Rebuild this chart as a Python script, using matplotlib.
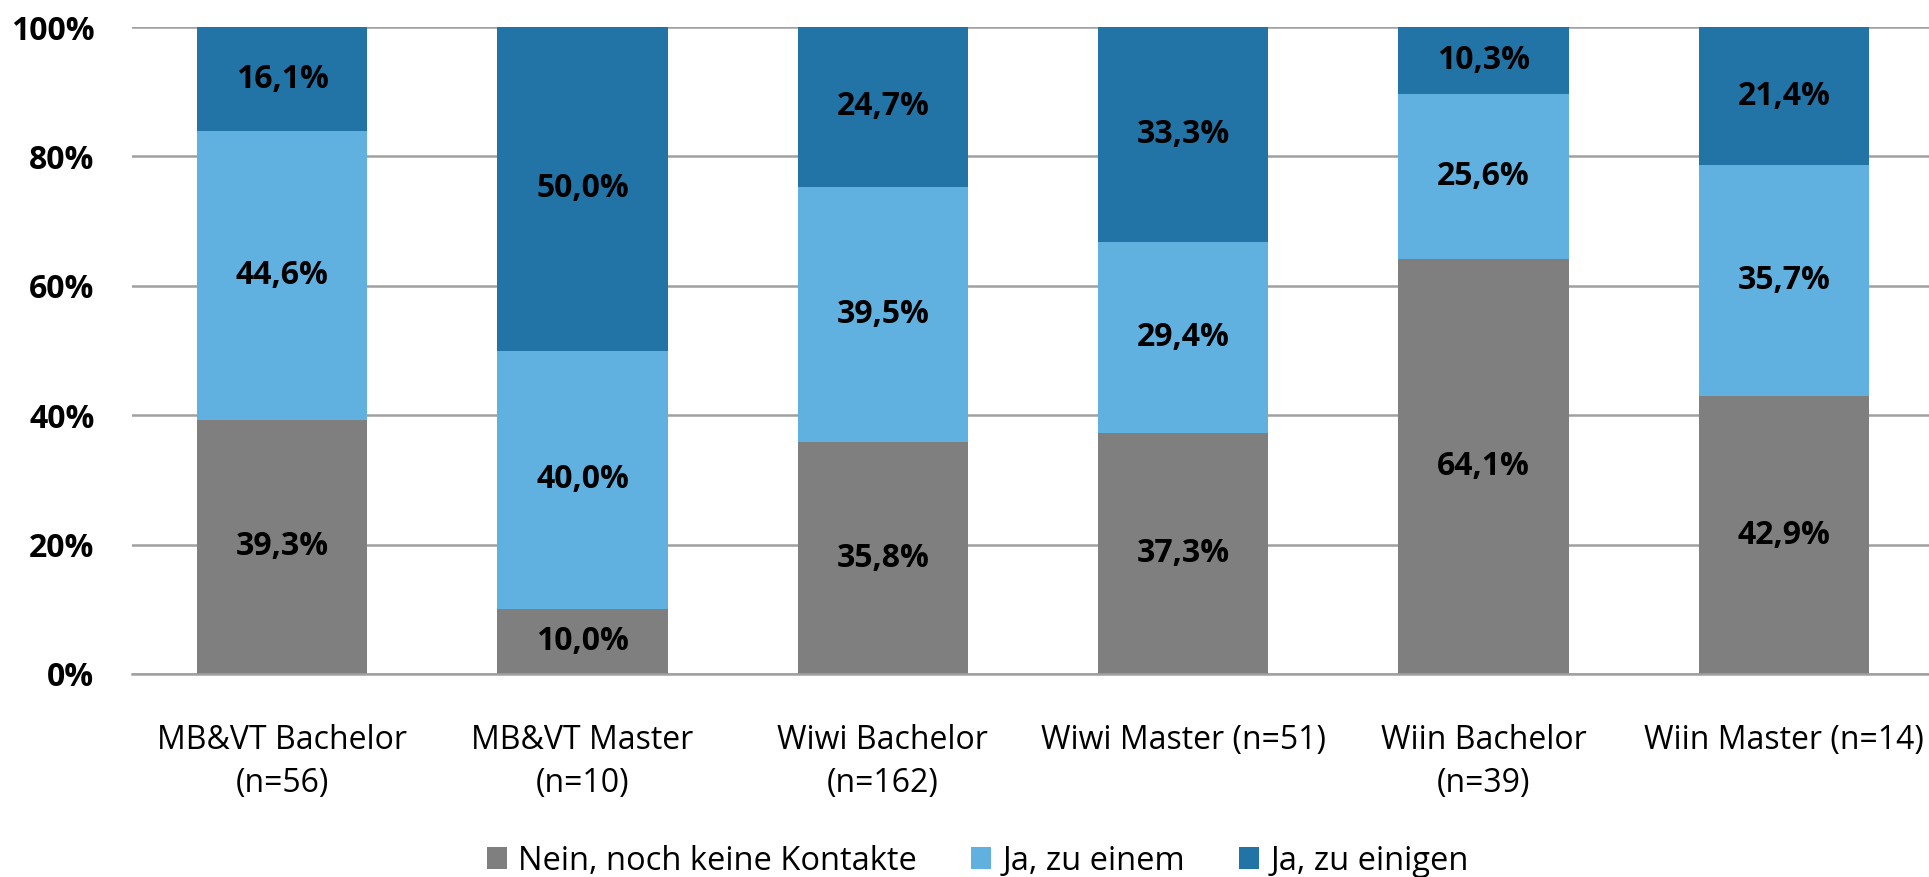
import matplotlib
matplotlib.use("Agg")
import matplotlib.pyplot as plt
import numpy as np
from matplotlib.ticker import FuncFormatter

plt.rcParams['font.family'] = ['Open Sans', 'DejaVu Sans']

categories = ["MB&VT Bachelor\n(n=56)", "MB&VT Master\n(n=10)", "Wiwi Bachelor\n(n=162)",
              "Wiwi Master (n=51)\n", "Wiin Bachelor\n(n=39)", "Wiin Master (n=14)\n"]
series_names = ["Nein, noch keine Kontakte", "Ja, zu einem", "Ja, zu einigen"]
nein = [39.3, 10.0, 35.8, 37.3, 64.1, 42.9]
ja_einem = [44.6, 40.0, 39.5, 29.4, 25.6, 35.7]
ja_einigen = [16.1, 50.0, 24.7, 33.3, 10.3, 21.4]
colors = ["#7F7F7F", "#60B1DF", "#2374A6"]

W, H = 1929, 877
fig = plt.figure(figsize=(W / 100, H / 100), dpi=100)
ax = fig.add_axes([132 / W, 1 - 674 / H, (1934 - 132) / W, (674 - 27) / H])

x = np.arange(len(categories))
bottom = np.zeros(len(categories))
handles = []
for vals, name, c in zip([nein, ja_einem, ja_einigen], series_names, colors):
    v = np.array(vals)
    b = ax.bar(x, v, bottom=bottom, width=0.567, color=c, label=name, zorder=3)
    handles.append(b)
    for xi, bi, vi in zip(x, bottom, v):
        ax.text(xi, bi + vi / 2, f"{vi:.1f}%".replace(".", ","), ha="center", va="center",
                fontsize=23, fontweight="bold", color="black", zorder=4)
    bottom += v

ax.set_xlim(-0.5, 5.5)
ax.set_ylim(0, 100)
ax.set_yticks(np.arange(0, 101, 20))
ax.yaxis.set_major_formatter(FuncFormatter(lambda v, p: f"{int(v)}%"))
ax.grid(axis="y", color="#A0A0A0", linewidth=1.8, zorder=0)
for s in ["top", "right", "left"]:
    ax.spines[s].set_visible(False)
ax.spines["bottom"].set_color("#A0A0A0")
ax.spines["bottom"].set_linewidth(1.8)
ax.spines["bottom"].set_zorder(5)
ax.tick_params(axis="y", length=0, pad=27, labelsize=23)
for t in ax.get_yticklabels():
    t.set_fontweight("bold")
ax.set_xticks(x)
ax.set_xticklabels(categories, fontsize=23, linespacing=1.4)
ax.tick_params(axis="x", length=0, pad=36)

fig.legend(handles=handles, labels=series_names, loc="center", bbox_to_anchor=(978 / W, 1 - 861 / H),
           ncol=3, frameon=False, fontsize=23.5, handlelength=0.62, handleheight=0.65,
           handletextpad=0.35, columnspacing=1.65, borderaxespad=0)

fig.savefig("out.png", dpi=100)
